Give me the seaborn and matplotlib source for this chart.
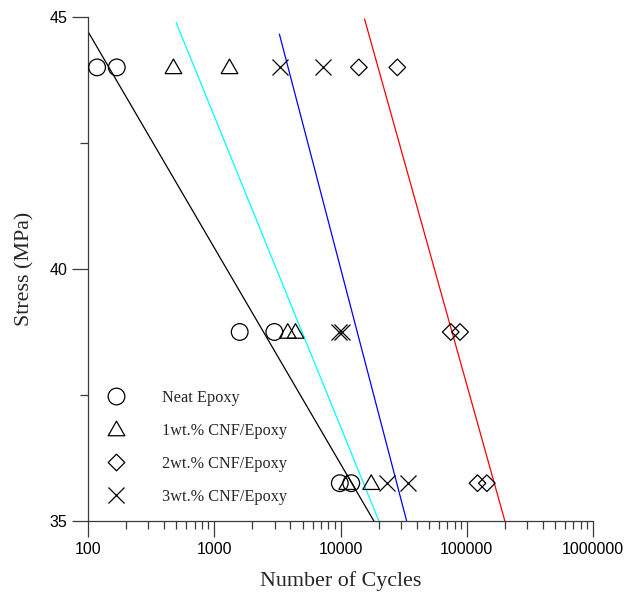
import matplotlib
matplotlib.use("Agg")
import matplotlib.pyplot as plt
import numpy as np
import pandas as pd
import seaborn as sns
from matplotlib.lines import Line2D
from matplotlib.path import Path
from matplotlib.ticker import FixedLocator, FixedFormatter, LogLocator, NullFormatter

# ---- data -------------------------------------------------------------
series_names = ["Neat Epoxy", "1wt.% CNF/Epoxy", "2wt.% CNF/Epoxy", "3wt.% CNF/Epoxy"]

stress = [44.0, 44.0, 38.75, 38.75, 35.75, 35.75]
neat_cycles = [118, 169, 1590, 2990, 9870, 12160]
cnf1_cycles = [475, 1320, 3820, 4400, 11300, 17500]
cnf2_cycles = [13970, 28180, 74650, 88500, 121600, 144200]
cnf3_cycles = [3340, 7240, 9700, 10310, 23170, 34200]

# S-N fit lines, given by their end points
fit_top_cycles = [100, 499, 3279, 15500]
fit_top_stress = [44.71, 44.89, 44.66, 44.96]
fit_bottom_cycles = [18380, 20140, 33400, 200300]
fit_bottom_stress = [35.0, 35.0, 35.0, 35.0]
fit_colors = ["black", "#00FFFF", "#0000FF", "#FF0000"]

x_ticks = [100, 1000, 10000, 100000, 1000000]
x_tick_labels = ["100", "1000", "10000", "100000", "1000000"]
y_ticks = [35, 40, 45]
y_minor_ticks = [37.5, 42.5]

# ---- marker shapes ----------------------------------------------------
tri = Path([(-1, -0.75), (1, -0.75), (0, 1), (-1, -0.75)],
           [Path.MOVETO, Path.LINETO, Path.LINETO, Path.CLOSEPOLY])
dia = Path([(0, 1), (1, 0), (0, -1), (-1, 0), (0, 1)],
           [Path.MOVETO, Path.LINETO, Path.LINETO, Path.LINETO, Path.CLOSEPOLY])
markers = ["o", tri, dia, "x"]
marker_pts = [12, 12, 12, 11.5]

sns.set_style("ticks")
plt.rcParams["font.family"] = ["Liberation Sans", "DejaVu Sans"]
serif = ["Liberation Serif", "DejaVu Serif"]
axis_grey = "#3a3a3a"

fig = plt.figure(figsize=(6.35, 5.94), dpi=100)
ax = fig.add_axes([0.1386, 0.1229, 0.7953, 0.8485])
ax.set_xscale("log")

# fit lines
for xt, yt, xb, yb, c in zip(fit_top_cycles, fit_top_stress,
                             fit_bottom_cycles, fit_bottom_stress, fit_colors):
    line_df = pd.DataFrame({"cycles": [xt, xb], "stress": [yt, yb]})
    sns.lineplot(data=line_df, x="cycles", y="stress", color=c, linewidth=0.9,
                 sort=False, estimator=None, ax=ax, zorder=2)

# experimental points
all_cycles = [neat_cycles, cnf1_cycles, cnf2_cycles, cnf3_cycles]
for cyc, m, ms in zip(all_cycles, markers, marker_pts):
    pts = pd.DataFrame({"cycles": cyc, "stress": stress})
    if m == "x":
        sns.scatterplot(data=pts, x="cycles", y="stress", marker=m, s=ms ** 2,
                        color="black", linewidth=0.9, ax=ax, zorder=3)
    else:
        sns.scatterplot(data=pts, x="cycles", y="stress", marker=m, s=ms ** 2,
                        facecolor="none", edgecolor="black", linewidth=0.9,
                        ax=ax, zorder=3)

ax.set_xlim(100, 1000000)
ax.set_ylim(35, 45)

ax.xaxis.set_major_locator(FixedLocator(x_ticks))
ax.xaxis.set_major_formatter(FixedFormatter(x_tick_labels))
ax.xaxis.set_minor_locator(LogLocator(base=10, subs=np.arange(2, 10)))
ax.xaxis.set_minor_formatter(NullFormatter())
ax.yaxis.set_major_locator(FixedLocator(y_ticks))
ax.yaxis.set_minor_locator(FixedLocator(y_minor_ticks))

ax.tick_params(which="major", direction="out", length=11.5, width=0.9,
               color=axis_grey, labelsize=11.5, pad=3.5, labelcolor="black")
ax.tick_params(which="minor", direction="out", length=5.8, width=0.9,
               color=axis_grey)

for side in ["top", "right"]:
    ax.spines[side].set_visible(False)
for side in ["left", "bottom"]:
    ax.spines[side].set_color(axis_grey)
    ax.spines[side].set_linewidth(0.9)

ax.set_xlabel("Number of Cycles", fontsize=15.8, family=serif)
ax.set_ylabel("Stress (MPa)", fontsize=15.8, family=serif)
ax.xaxis.set_label_coords(0.5, -0.099)
ax.yaxis.set_label_coords(-0.105, 0.5)

handles = [Line2D([], [], marker=m, markersize=ms, markerfacecolor="none",
                  markeredgecolor="black", markeredgewidth=0.9, linestyle="none",
                  color="black")
           for m, ms in zip(markers, marker_pts)]
ax.legend(handles, series_names, loc="lower left", bbox_to_anchor=(0.0104, 0.019),
          borderaxespad=0, frameon=False, handlelength=2.0, handletextpad=1.83,
          labelspacing=1.05, borderpad=0.4, prop={"family": serif, "size": 11.7})

fig.savefig("out.png", dpi=100)
